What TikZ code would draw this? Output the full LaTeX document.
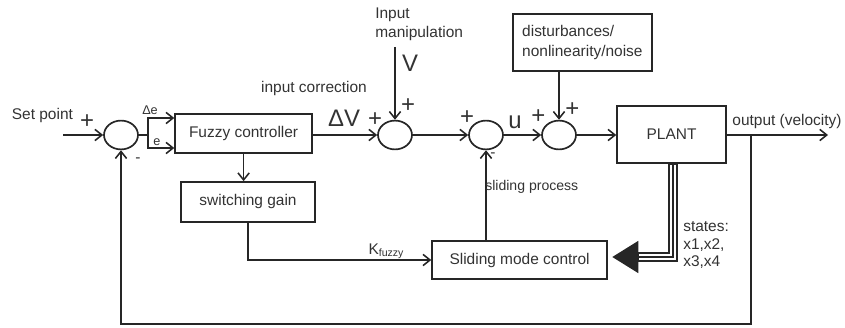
\documentclass[tikz,border=0pt]{standalone}
\usepackage{fontspec}
\setmainfont{Liberation Sans}
\usepackage{tikz}
\usetikzlibrary{
  arrows.meta,
  positioning,
  shapes.geometric,
}

\begin{document}
\begin{tikzpicture}[
  >={Straight Barb[length=5pt,width=8pt]},
  line/.style={line width=1.1pt, black!85},
  blk/.style={draw=black!85, line width=1.2pt, text=black!80,
    font=\fontsize{11}{13}\selectfont, inner sep=0pt},
  sum/.style={draw=black!85, line width=1.2pt, ellipse, inner sep=0pt,
    minimum width=0.85cm, minimum height=0.72cm},
  label/.style={text=black!80, font=\fontsize{11}{13}\selectfont, inner sep=0pt},
  small/.style={text=black!80, font=\fontsize{9}{10}\selectfont, inner sep=0pt},
  big/.style={text=black!80, font=\fontsize{17}{19}\selectfont, inner sep=0pt},
]
  \useasboundingbox (0,0) rectangle (21.125,-8.2);

  % Summing junctions
  \node[sum] (c1) at (3.025,-3.375) {};
  \node[sum] (c2) at (9.875,-3.375) {};
  \node[sum] (c3) at (12.15,-3.375) {};
  \node[sum] (c4) at (13.975,-3.375) {};

  % Blocks
  \node[blk, minimum width=3.425cm, minimum height=0.975cm] (fuzzy) at (6.09,-3.34) {Fuzzy controller};
  \node[blk, minimum width=3.35cm, minimum height=1cm] (gain) at (6.2,-5.05) {switching gain};
  \node[blk, minimum width=4.375cm, minimum height=0.95cm] (smc) at (12.99,-6.5) {Sliding mode control};
  \node[blk, minimum width=2.725cm, minimum height=1.425cm] (plant) at (16.79,-3.36) {PLANT};
  \node[blk, minimum width=3.475cm, minimum height=1.425cm, align=left,
    font=\fontsize{11}{14}\selectfont] (dist) at (14.56,-1.06) {disturbances/\\nonlinearity/noise};

  % Free ends
  \coordinate (sp) at (1.575,-3.375);
  \coordinate (split) at (3.7,-3.375);
  \coordinate (vin) at (9.875,-1.175);
  \coordinate (out) at (20.7,-3.375);
  \coordinate (tap) at (18.775,-3.375);
  \coordinate (fb) at (18.775,-8.1);

  % Forward path
  \draw[line,->] (sp) -- (c1.west);
  \draw[line] (c1.east) -- (split);
  \draw[line,->] (split) |- ([yshift=0.39cm]fuzzy.west);
  \draw[line,->] (split) |- ([yshift=-0.36cm]fuzzy.west);
  \draw[line,->] (fuzzy.east |- c2) -- (c2.west);
  \draw[line,->] (vin) -- (c2.north);
  \draw[line,->] (c2.east) -- (c3.west);
  \draw[line,->] (c3.east) -- (c4.west);
  \draw[line,->] (dist.south -| c4) -- (c4.north);
  \draw[line,->] (c4.east) -- (plant.west |- c4);
  \draw[line,->] (plant.east |- c4) -- (out);

  % Lower branch
  \draw[line,->] (fuzzy.south) -- (fuzzy.south |- gain.north);
  \draw[line,->] (gain.south) |- (smc.west);
  \draw[line,->] (smc.north -| c3) -- (c3.south);

  % Feedback
  \draw[line,->] (tap) -- (fb) -| (c1.south);

  % States bus
  \draw[line width=7pt, black!85, shorten >=0.1cm,
    -{Triangle[length=0.66cm,width=0.76cm]}]
    ([xshift=0.035cm]plant.south) |- ([yshift=0.075cm]smc.east);
  \draw[line width=4.2pt, white, shorten >=0.78cm, shorten <=0.7pt]
    ([xshift=0.035cm]plant.south) |- ([yshift=0.075cm]smc.east);
  \draw[line width=1.4pt, black!85, shorten >=0.78cm]
    ([xshift=0.035cm]plant.south) |- ([yshift=0.075cm]smc.east);

  % Labels
  \node[label] (setpt) at (1.06,-2.9) {Set point};
  \node[big] (p1) at (2.175,-3.05) {+};
  \node[label] (m1) at (3.45,-4.0) {-};
  \node[small] (de) at (3.75,-2.75) {Δe};
  \node[small] (ee) at (3.925,-3.55) {e};
  \node[label] (corr) at (7.85,-2.225) {input correction};
  \node[big] (dv) at (8.6,-2.95) {ΔV};
  \node[big] (p2a) at (9.375,-3.0) {+};
  \node[big] (p2b) at (10.2,-2.65) {+};
  \node[label, align=left, anchor=north west] (manip) at (9.375,-0.2) {Input\\manipulation};
  \node[big] (vv) at (10.25,-1.59) {V};
  \node[big] (p3) at (11.675,-2.95) {+};
  \node[label] (m3) at (12.325,-3.875) {-};
  \node[big] (uu) at (12.875,-3.05) {u};
  \node[big] (p4a) at (13.46,-2.925) {+};
  \node[big] (p4b) at (14.31,-2.75) {+};
  \node[label] (outl) at (19.675,-3.05) {output (velocity)};
  \node[small, font=\fontsize{10}{12}\selectfont, anchor=west] (slide) at (12.125,-4.675) {sliding process};
  \node[label] (kf) at (9.65,-6.275) {K\raisebox{-0.3ex}{\fontsize{7.5}{8}\selectfont fuzzy}};
  \node[label, align=left, anchor=west, font=\fontsize{11}{12.5}\selectfont] (states) at (17.075,-6.125) {states:\\x1,x2,\\x3,x4};

\end{tikzpicture}
\end{document}
